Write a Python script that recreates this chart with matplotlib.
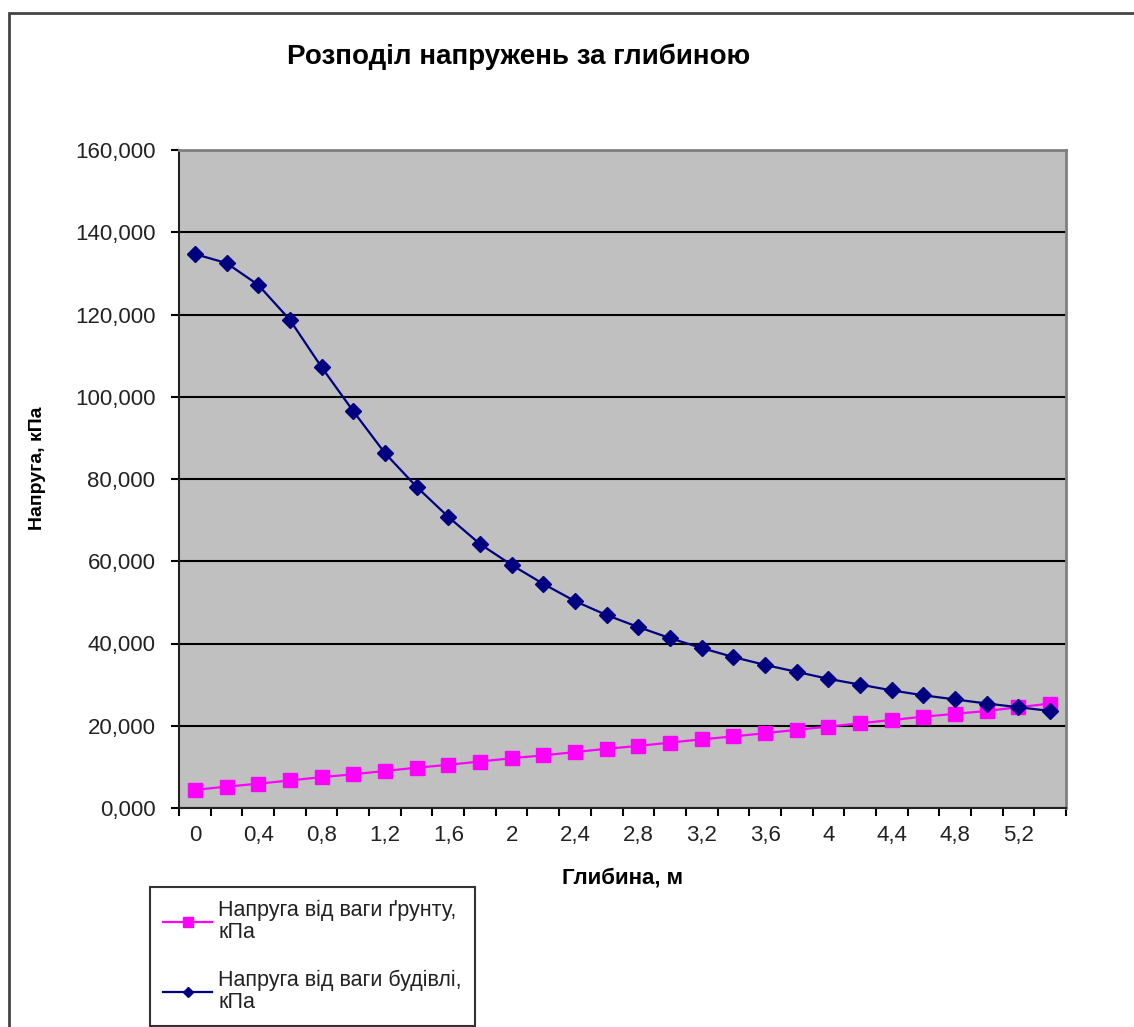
import matplotlib.pyplot as plt
from matplotlib.patches import Rectangle
from matplotlib.ticker import FixedLocator, FuncFormatter
import numpy as np

plt.rcParams['font.family'] = ['Liberation Sans', 'DejaVu Sans']

# глибина, м (категорії осі X)
depth_labels = ['0', '0,2', '0,4', '0,6', '0,8', '1', '1,2', '1,4', '1,6', '1,8',
                '2', '2,2', '2,4', '2,6', '2,8', '3', '3,2', '3,4', '3,6', '3,8',
                '4', '4,2', '4,4', '4,6', '4,8', '5', '5,2', '5,4']
# напруга від ваги ґрунту, кПа
soil = [4.4, 5.2, 5.9, 6.7, 7.5, 8.2, 9.0, 9.8, 10.5, 11.3, 12.1, 12.8, 13.6, 14.4,
        15.1, 15.9, 16.7, 17.4, 18.2, 19.0, 19.8, 20.6, 21.4, 22.2, 22.9, 23.6, 24.5, 25.4]
# напруга від ваги будівлі, кПа
building = [134.7, 132.5, 127.2, 118.7, 107.2, 96.5, 86.3, 78.1, 70.8, 64.2,
            59.1, 54.5, 50.3, 46.9, 44.0, 41.3, 38.9, 36.7, 34.8, 33.1,
            31.4, 30.0, 28.6, 27.4, 26.4, 25.4, 24.5, 23.6]

W, H = 1134, 1027
fig = plt.figure(figsize=(W / 100, H / 100), dpi=100)
ax = fig.add_axes([179 / W, 1 - 808 / H, (1066 - 179) / W, (808 - 150) / H])

x = np.arange(len(depth_labels))
l1, = ax.plot(x, soil, color='#FF00FF', lw=1.6, marker='s', ms=10, zorder=3,
              label='Напруга від ваги ґрунту,\nкПа')
l2, = ax.plot(x, building, color='#000080', lw=1.6, marker='D', ms=8, zorder=4,
              label='Напруга від ваги будівлі,\nкПа')

ax.set_facecolor('#C0C0C0')
ax.set_xlim(-0.5, len(depth_labels) - 0.5)
ax.set_ylim(0, 160)
ax.set_yticks(np.arange(0, 161, 20))
ax.yaxis.set_major_formatter(FuncFormatter(lambda v, p: f'{v:.3f}'.replace('.', ',')))
ax.yaxis.grid(True, color='black', lw=1.5)
ax.set_axisbelow(True)

# мітки між категоріями, підписи через одну категорію
ax.xaxis.set_major_locator(FixedLocator(np.arange(-0.5, len(depth_labels), 1)))
ax.xaxis.set_major_formatter(FuncFormatter(lambda v, p: ''))
ax.xaxis.set_minor_locator(FixedLocator(x[::2]))
ax.set_xticklabels(depth_labels[::2], minor=True)
ax.tick_params(axis='x', which='minor', length=0, pad=12, labelsize=16, labelcolor='#222222')
ax.tick_params(axis='x', which='major', length=6, width=1.5, direction='out')
ax.tick_params(axis='y', length=6, width=1.5, pad=11, labelsize=16, labelcolor='#222222')

for s in ['top', 'right']:
    ax.spines[s].set_color('#808080')
    ax.spines[s].set_linewidth(2)
for s in ['left', 'bottom']:
    ax.spines[s].set_color('#222222')
    ax.spines[s].set_linewidth(1.5)

fig.text(519 / W, 1 - 57 / H, 'Розподіл напружень за глибиною', ha='center', va='center',
         fontsize=20, fontweight='bold')
fig.text(38 / W, 1 - 468 / H, 'Напруга, кПа', rotation=90, ha='center', va='center',
         fontsize=14, fontweight='bold')
fig.text(622 / W, 1 - 878 / H, 'Глибина, м', ha='center', va='center',
         fontsize=16, fontweight='bold')

leg = fig.legend(handles=[l1, l2], loc='upper left', bbox_to_anchor=(150 / W, 1 - 887 / H),
                 fontsize=15.5, frameon=True, fancybox=False, edgecolor='black',
                 handlelength=2.3, handletextpad=0.28, labelspacing=1.25,
                 borderpad=0.6, borderaxespad=0, markerscale=0.7)
leg.get_frame().set_linewidth(1.5)
for t in leg.get_texts():
    t.set_color('#222222')
    t.set_linespacing(1.05)

# рамка області діаграми
fig.patches.append(Rectangle((9 / W, -0.1), 1.2, 1 - 13 / H + 0.1, transform=fig.transFigure,
                             fill=False, edgecolor='#444444', lw=2, zorder=0))

fig.savefig('out.png', dpi=100)
